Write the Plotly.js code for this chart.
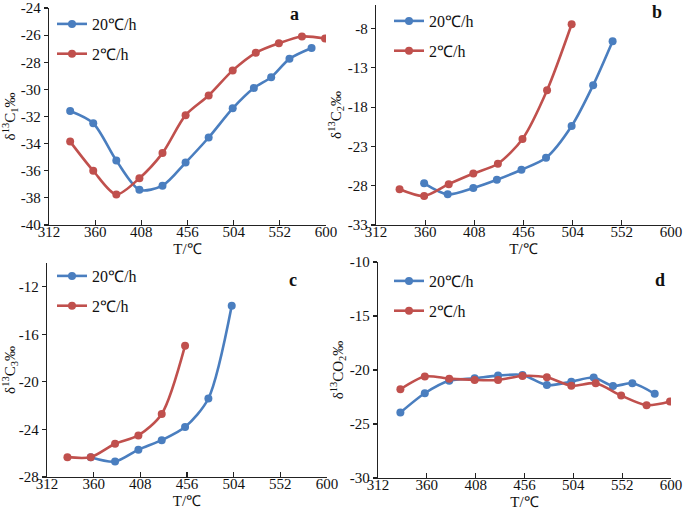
<!DOCTYPE html>
<html>
<head>
<meta charset="utf-8">
<script src="https://cdn.plot.ly/plotly-3.0.1.min.js"></script>
<style>html,body{margin:0;padding:0;background:#fff;}#chart{width:685px;height:512px;}</style>
</head>
<body>
<div id="chart"></div>
<script>
// ---- data ----
var seriesNames = ["20℃/h", "2℃/h"];
var xTickVals = [312, 360, 408, 456, 504, 552, 600];

// panel a: δ13C1
var aTempFast = [334, 358, 382, 406, 430, 454, 478, 503, 525, 543, 562, 585];
var aFast = [-31.6, -32.5, -35.25, -37.4, -37.1, -35.4, -33.55, -31.4, -29.9, -29.1, -27.75, -26.95];
var aTempSlow = [334, 358, 382, 406, 430, 454, 478, 503, 527, 551, 575, 599];
var aSlow = [-33.85, -36.0, -37.75, -36.55, -34.7, -31.9, -30.45, -28.6, -27.3, -26.6, -26.1, -26.25];
var aYTicks = [-40, -38, -36, -34, -32, -30, -28, -26, -24];

// panel b: δ13C2
var bTempFast = [359, 382, 407, 430, 454, 478, 503, 524, 543];
var bFast = [-27.7, -29.1, -28.3, -27.25, -25.97, -24.45, -20.4, -15.2, -9.6];
var bTempSlow = [335, 359, 383, 407, 431, 455, 479, 503];
var bSlow = [-28.45, -29.3, -27.8, -26.45, -25.2, -22.05, -15.85, -7.45];
var bYTicks = [-33, -28, -23, -18, -13, -8];

// panel c: δ13C3
var cTempFast = [357, 382, 406, 430, 454, 478, 502];
var cFast = [-26.33, -26.7, -25.7, -24.9, -23.8, -21.4, -13.6];
var cTempSlow = [333, 357, 382, 406, 430, 454];
var cSlow = [-26.33, -26.33, -25.2, -24.5, -22.7, -16.95];
var cYTicks = [-28, -24, -20, -16, -12];

// panel d: δ13CO2
var dTempFast = [334, 358, 382, 407, 430, 454, 478, 502, 524, 543, 562, 584];
var dFast = [-23.94, -22.15, -21.0, -20.77, -20.52, -20.46, -21.4, -21.08, -20.7, -21.48, -21.23, -22.2];
var dTempSlow = [334, 358, 382, 407, 430, 454, 478, 502, 526, 551, 576, 599];
var dSlow = [-21.78, -20.6, -20.8, -20.92, -20.92, -20.55, -20.68, -21.45, -21.23, -22.37, -23.26, -22.92];
var dYTicks = [-30, -25, -20, -15, -10];

var panelLabels = ["a", "b", "c", "d"];
var yTitles = ["δ<sup>13</sup>C<sub>1</sub>‰", "δ<sup>13</sup>C<sub>2</sub>‰", "δ<sup>13</sup>C<sub>3</sub>‰", "δ<sup>13</sup>CO<sub>2</sub>‰"];
var xTitle = "T/℃";

// ---- styling ----
var W = 685, H = 512;
var BLUE = "#4a7ebf", RED = "#c0504d";
var SERIF = "Liberation Serif, Times New Roman, serif";

function px(x) { return x / W; }
function py(y) { return 1 - y / H; }

var panels = [
  {tf: aTempFast, f: aFast, ts: aTempSlow, s: aSlow, yt: aYTicks, yr: [-40, -24], box: [49, 326, 8, 225], leg: [52, 7], lab: [294, 14]},
  {tf: bTempFast, f: bFast, ts: bTempSlow, s: bSlow, yt: bYTicks, yr: [-33, -5], box: [376, 671, 5, 225], leg: [389, 4], lab: [657, 12]},
  {tf: cTempFast, f: cFast, ts: cTempSlow, s: cSlow, yt: cYTicks, yr: [-28, -10], box: [47, 327, 263, 477], leg: [52, 259], lab: [293, 280]},
  {tf: dTempFast, f: dFast, ts: dTempSlow, s: dSlow, yt: dYTicks, yr: [-30, -10], box: [378, 671, 262, 478], leg: [389, 264], lab: [660, 280]}
];

var traces = [];
var layout = {
  width: W, height: H,
  margin: {l: 0, r: 0, t: 0, b: 0},
  paper_bgcolor: "#fff", plot_bgcolor: "#fff",
  font: {family: SERIF, size: 14, color: "#111"},
  annotations: []
};

panels.forEach(function (p, i) {
  var n = i + 1;
  var xa = "x" + (n === 1 ? "" : n), ya = "y" + (n === 1 ? "" : n);
  var legName = "legend" + (n === 1 ? "" : n);
  [[p.tf, p.f, BLUE, seriesNames[0]], [p.ts, p.s, RED, seriesNames[1]]].forEach(function (d, k) {
    traces.push({
      x: d[0], y: d[1], name: d[3], type: "scatter", mode: "lines+markers",
      xaxis: xa, yaxis: ya, legend: legName, legendgroup: "g" + n + "_" + k,
      line: {color: d[2], width: 2.6, shape: "spline", smoothing: 0.8},
      marker: {color: d[2], size: 8}
    });
  });
  var axCommon = {showline: true, linecolor: "#222", linewidth: 1.3, showgrid: false, zeroline: false,
                  tickfont: {family: SERIF, size: 15, color: "#111"}, tickcolor: "#222", tickwidth: 1.2};
  layout["xaxis" + (n === 1 ? "" : n)] = Object.assign({}, axCommon, {
    domain: [px(p.box[0]), px(p.box[1])], anchor: ya, range: [312, 600],
    tickmode: "array", tickvals: xTickVals, ticktext: xTickVals.map(String),
    ticks: "inside", ticklen: 5, ticklabelstandoff: -7,
    title: {text: xTitle, font: {family: SERIF, size: 15, color: "#111"}, standoff: 4}
  });
  layout["yaxis" + (n === 1 ? "" : n)] = Object.assign({}, axCommon, {
    domain: [py(p.box[3]), py(p.box[2])], anchor: xa, range: p.yr,
    tickmode: "array", tickvals: p.yt, ticktext: p.yt.map(function (v) { return "-" + Math.abs(v); }),
    ticks: "outside", ticklen: 4,
    title: {text: yTitles[i], font: {family: SERIF, size: 15, color: "#111"}, standoff: 2}
  });
  layout[legName] = {
    x: px(p.leg[0]), y: py(p.leg[1]), xanchor: "left", yanchor: "top",
    bgcolor: "rgba(0,0,0,0)", borderwidth: 0,
    font: {family: SERIF, size: 16, color: "#111"},
    traceorder: "grouped", tracegroupgap: 6
  };
  layout.annotations.push({
    text: "<b>" + panelLabels[i] + "</b>", xref: "paper", yref: "paper",
    x: px(p.lab[0]), y: py(p.lab[1]), xanchor: "center", yanchor: "middle",
    showarrow: false, font: {family: SERIF, size: 18, color: "#111"}
  });
});

Plotly.newPlot("chart", traces, layout, {displayModeBar: false, staticPlot: true});
</script>
</body>
</html>
